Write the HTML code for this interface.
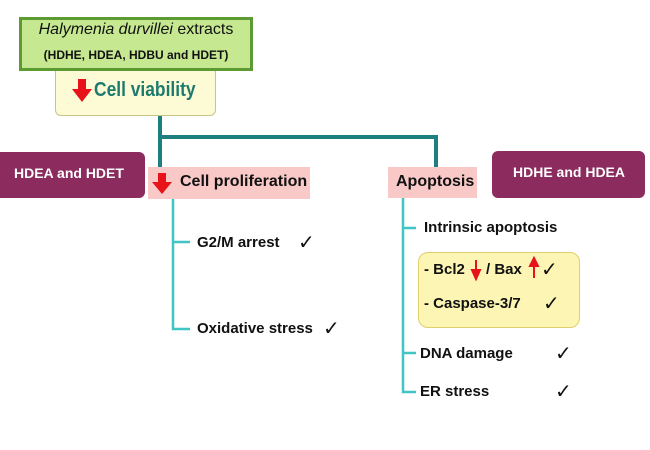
<!DOCTYPE html>
<html><head><style>
body{margin:0;width:650px;height:450px;background:#fff;position:relative;overflow:hidden;font-family:"Liberation Sans",Arial,sans-serif;font-weight:bold}
.a{position:absolute;box-sizing:border-box}
.t{position:absolute;white-space:nowrap;color:#111;z-index:3}
.c{position:absolute;font-family:"DejaVu Sans",sans-serif;font-weight:normal;font-size:20px;color:#111;line-height:1;z-index:3}
</style></head><body>
<div class="a" style="left:55px;top:66px;width:161px;height:50px;background:#fdfbd5;border:1px solid #c8c48a;border-radius:6px"></div>
<div class="a" style="left:19px;top:17px;width:234px;height:54px;background:#c6e891;border:3px solid #5c9a32"></div>
<div class="t" style="left:19px;top:21px;width:234px;text-align:center;font-size:16px;font-weight:normal"><i>Halymenia durvillei</i> extracts</div>
<div class="t" style="left:19px;top:48px;width:234px;text-align:center;font-size:12px">(HDHE, HDEA, HDBU and HDET)</div>
<div class="a" style="left:148px;top:167px;width:162px;height:32px;background:#f8c9c6"></div>
<div class="a" style="left:418px;top:252px;width:162px;height:76px;background:#fdf5b3;border:1px solid #e0cf6a;border-radius:10px"></div>
<svg class="a" style="left:0;top:0;z-index:2" width="650" height="450">
<g fill="#e8131a"><rect x="78" y="79" width="8" height="10"/><polygon points="72,89 92,89 82,102"/>
<rect x="158" y="173" width="8" height="9"/><polygon points="152,182 172,182 162,194"/></g>
<g stroke="#1d7f7f" stroke-width="4" fill="none"><path d="M160 116V167M160 137H436V167"/></g>
<g stroke="#40c4c4" stroke-width="2.5" fill="none"><path d="M173 199V329H190M173 242H190M403 198V392H416M403 228H416M403 353H416"/></g>
<g stroke="#e8131a" stroke-width="2" fill="#e8131a"><path d="M476 260V272"/><polygon points="472,270 480,270 476,279"/><path d="M534 265V278"/><polygon points="530,266 538,266 534,258"/></g>
</svg>
<div class="t" style="left:94px;top:79px;font-size:20px;color:#1e7a6e;transform:scaleX(0.87);transform-origin:left">Cell viability</div>
<div class="a" style="left:0;top:152px;width:145px;height:46px;background:#8b2b5e;border-radius:0 6px 6px 0"></div>
<div class="t" style="left:14px;top:165px;font-size:14px;color:#fff">HDEA and HDET</div>
<div class="t" style="left:180px;top:173px;font-size:16px">Cell proliferation</div>
<div class="a" style="left:388px;top:167px;width:89px;height:31px;background:#f8c9c6"></div>
<div class="t" style="left:396px;top:173px;font-size:16px">Apoptosis</div>
<div class="a" style="left:492px;top:151px;width:153px;height:47px;background:#8b2b5e;border-radius:6px"></div>
<div class="t" style="left:513px;top:164px;font-size:14px;color:#fff">HDHE and HDEA</div>
<div class="t" style="left:197px;top:234px;font-size:15px">G2/M arrest</div>
<div class="c" style="left:298px;top:232px">✓</div>
<div class="t" style="left:197px;top:320px;font-size:15px">Oxidative stress</div>
<div class="c" style="left:323px;top:318px">✓</div>
<div class="t" style="left:424px;top:219px;font-size:15px">Intrinsic apoptosis</div>
<div class="t" style="left:424px;top:261px;font-size:15px">- Bcl2</div>
<div class="t" style="left:486px;top:261px;font-size:15px">/ Bax</div>
<div class="c" style="left:541px;top:259px">✓</div>
<div class="t" style="left:424px;top:295px;font-size:15px">- Caspase-3/7</div>
<div class="c" style="left:543px;top:293px">✓</div>
<div class="t" style="left:420px;top:345px;font-size:15px">DNA damage</div>
<div class="t" style="left:420px;top:383px;font-size:15px">ER stress</div>
<div class="c" style="left:555px;top:343px">✓</div>
<div class="c" style="left:555px;top:381px">✓</div>
</body></html>
